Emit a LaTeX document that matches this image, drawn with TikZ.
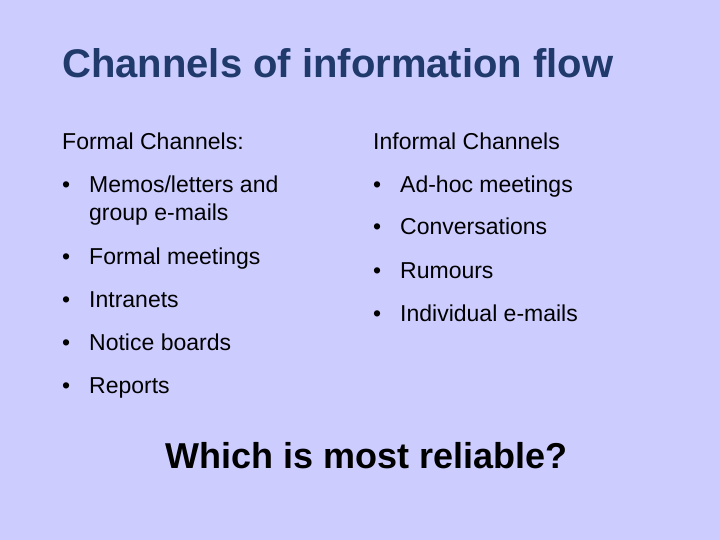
\documentclass[tikz,border=0pt]{standalone}
\usepackage{fontspec}
\setmainfont{Liberation Sans}
\definecolor{slidebg}{HTML}{CCCCFF}
\definecolor{titleblue}{HTML}{1F3A6B}
\tikzset{
  txt/.style={anchor=base west, inner sep=0pt, font=\fontsize{23}{27}\selectfont},
  bul/.style={txt},
}
\begin{document}
\begin{tikzpicture}[x=1pt,y=-1pt]
  \fill[slidebg] (0,0) rectangle (720,540);
  \useasboundingbox (0,0) rectangle (720,540);
  \node (title) [anchor=base west, inner sep=0pt, text=titleblue, font=\fontsize{40}{44}\selectfont\bfseries] at (62,78) {Channels of information flow};

  % formal column
  \node (formal) [txt] at (62,150) {Formal Channels:};
  \foreach \y/\t [count=\i] in {193/{Memos/letters and}, 264/Formal meetings, 307/Intranets, 350/Notice boards, 393/Reports} {
    \node (fb\i) [bul] at (62,\y) {\textbullet};
    \node (ft\i) [txt] at (89,\y) {\t};
  }
  \node (ft1b) [txt] at (89,221) {group e-mails};

  % informal column
  \node (informal) [txt] at (373,150) {Informal Channels};
  \foreach \y/\t [count=\i] in {193/Ad-hoc meetings, 235/Conversations, 278/Rumours, 321/Individual e-mails} {
    \node (ib\i) [bul] at (373,\y) {\textbullet};
    \node (it\i) [txt] at (400,\y) {\t};
  }

  \node (question) [anchor=base west, inner sep=0pt, font=\fontsize{36}{40}\selectfont\bfseries] at (165,468) {Which is most reliable?};
\end{tikzpicture}
\end{document}
